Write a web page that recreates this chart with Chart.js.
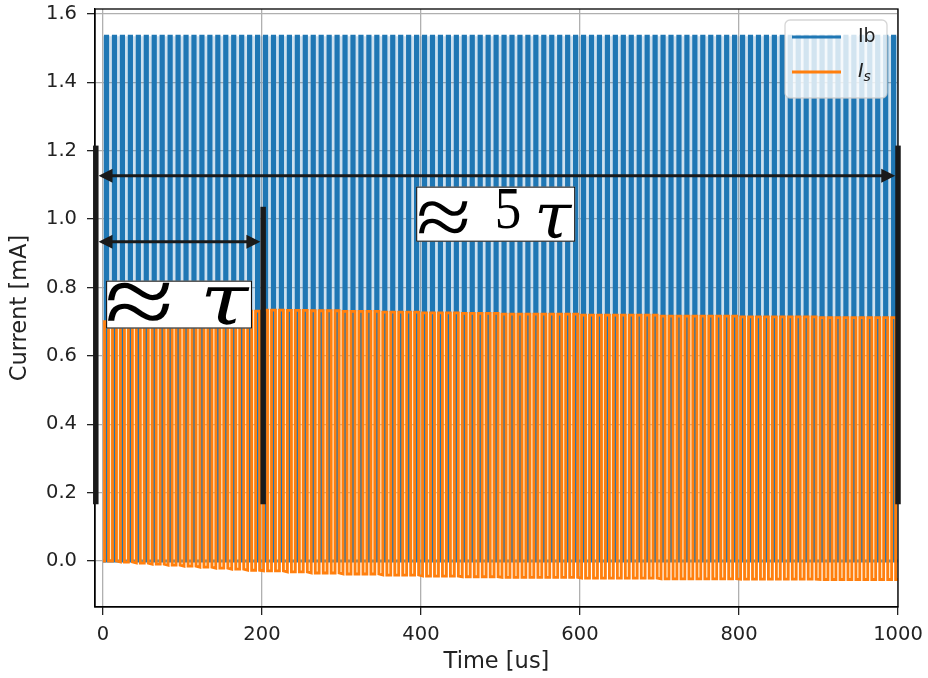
<!DOCTYPE html>
<html>
<head>
<meta charset="utf-8">
<script src="https://cdn.jsdelivr.net/npm/chart.js@4"></script>
<style>
  html, body { margin: 0; padding: 0; background: #fff; }
</style>
</head>
<body>
<canvas id="pulseChart" width="928" height="678"></canvas>
<script>
// axis ticks
const xTicks = [0, 200, 400, 600, 800, 1000];
const yTicks = [0.0, 0.2, 0.4, 0.6, 0.8, 1.0, 1.2, 1.4, 1.6];

// pulse train, one pulse every 10 us
const pulsePeriod = 10;
const pulseCount = 100;
const ibEdges = [3, 6];     // rise / fall inside each period (us)
const isEdges = [2, 7];
const ibLevels = [0, 1.535];

// Is levels, held from each time until the next one
const envTimes = [0, 20, 40, 60, 80, 100, 120, 140, 160, 180, 200, 230, 260, 300, 350, 400, 450, 500, 600, 700, 800, 900];
const isHigh = [0.700, 0.704, 0.708, 0.712, 0.716, 0.719, 0.722, 0.725, 0.728, 0.731, 0.734, 0.733, 0.732, 0.730, 0.728, 0.726, 0.724, 0.722, 0.719, 0.716, 0.714, 0.712];
const isLow = [0.000, -0.003, -0.006, -0.009, -0.012, -0.015, -0.018, -0.021, -0.024, -0.027, -0.029, -0.032, -0.035, -0.038, -0.041, -0.044, -0.046, -0.048, -0.050, -0.052, -0.053, -0.054];

const seriesNames = ["Ib", "I_s"];

// tau markers, in data units
const tauBars = [
  { x: -9, y0: 0.166, y1: 1.215 },
  { x: 201.5, y0: 0.166, y1: 1.036 },
  { x: 1000, y0: 0.166, y1: 1.215 },
];
const tauArrows = [
  { from: 0, to: 2, y: 1.127 },
  { from: 0, to: 1, y: 0.934 },
];
// each glyph is fitted to an ink box given as fractions of its label box
const tauLabels = [
  {
    x0: 394, x1: 594, yTop: 1.095, yBot: 0.934,
    parts: [
      { t: "≈", family: "Liberation Serif", box: [0.013, 0.255, 0.314, 0.6] },
      { t: "5", family: "Liberation Serif", box: [0.51, 0.055, 0.14, 0.727] },
      { t: "τ", family: "DejaVu Serif", italic: true, box: [0.767, 0.327, 0.215, 0.655] },
    ],
  },
  {
    x0: 4, x1: 187.4, yTop: 0.82, yBot: 0.68,
    parts: [
      { t: "≈", family: "Liberation Serif", box: [0.007, 0.042, 0.434, 0.82] },
      { t: "τ", family: "DejaVu Serif", italic: true, box: [0.68, 0.125, 0.305, 0.85] },
    ],
  },
];

function heldLevel(arr, t) {
  let v = arr[0];
  for (let i = 0; i < envTimes.length; i++) {
    if (envTimes[i] <= t) v = arr[i];
  }
  return v;
}

const ibData = [{ x: 0, y: ibLevels[0] }];
const isData = [{ x: 0, y: isLow[0] }];
const envData = [{ x: 0, y: isHigh[0] }];
for (let k = 0; k < pulseCount; k++) {
  const t = k * pulsePeriod;
  const hi = heldLevel(isHigh, t);
  const lo = heldLevel(isLow, t);
  ibData.push(
    { x: t + ibEdges[0], y: ibLevels[0] }, { x: t + ibEdges[0], y: ibLevels[1] },
    { x: t + ibEdges[1], y: ibLevels[1] }, { x: t + ibEdges[1], y: ibLevels[0] }
  );
  isData.push(
    { x: t + isEdges[0], y: lo }, { x: t + isEdges[0], y: hi },
    { x: t + isEdges[1], y: hi }, { x: t + isEdges[1], y: lo }
  );
  envData.push(
    { x: t + isEdges[0], y: hi }, { x: t + isEdges[0], y: hi },
    { x: t + isEdges[1], y: hi }, { x: t + isEdges[1], y: hi }
  );
}
const tEnd = pulseCount * pulsePeriod;
ibData.push({ x: tEnd, y: ibLevels[0] });
isData.push({ x: tEnd, y: heldLevel(isLow, tEnd) });
envData.push({ x: tEnd, y: heldLevel(isHigh, tEnd) });

const BLUE = "#1f77b4";
const ORANGE = "#ff7f0e";
const INK = "#1a1a1a";
const FONT = "DejaVu Sans";

const overlay = {
  id: "overlay",
  afterDatasetsDraw(chart) {
    const { ctx, chartArea: a, scales: { x, y } } = chart;
    ctx.save();

    // top / right spines
    ctx.strokeStyle = "#000";
    ctx.lineWidth = 1.3;
    ctx.strokeRect(a.left, a.top, a.right - a.left, a.bottom - a.top);

    // thick bars
    const barW = 5.5;
    ctx.fillStyle = INK;
    tauBars.forEach(b => {
      const px = x.getPixelForValue(b.x);
      const top = y.getPixelForValue(b.y1), bot = y.getPixelForValue(b.y0);
      ctx.fillRect(px - barW / 2, top, barW, bot - top);
    });

    // double-headed arrows
    ctx.strokeStyle = INK;
    ctx.lineWidth = 3;
    tauArrows.forEach(ar => {
      const xa = x.getPixelForValue(tauBars[ar.from].x) + barW / 2;
      const xb = x.getPixelForValue(tauBars[ar.to].x) - barW / 2;
      const py = y.getPixelForValue(ar.y);
      const hl = 14, hw = 7;
      ctx.beginPath();
      ctx.moveTo(xa + hl - 2, py);
      ctx.lineTo(xb - hl + 2, py);
      ctx.stroke();
      ctx.beginPath();
      ctx.moveTo(xa, py); ctx.lineTo(xa + hl, py - hw); ctx.lineTo(xa + hl, py + hw); ctx.closePath();
      ctx.moveTo(xb, py); ctx.lineTo(xb - hl, py - hw); ctx.lineTo(xb - hl, py + hw); ctx.closePath();
      ctx.fill();
    });

    // boxed labels
    tauLabels.forEach(lb => {
      const l = x.getPixelForValue(lb.x0), r = x.getPixelForValue(lb.x1);
      const t = y.getPixelForValue(lb.yTop), b = y.getPixelForValue(lb.yBot);
      const bw = r - l, bh = b - t;
      ctx.fillStyle = "#fff";
      ctx.fillRect(l, t, bw, bh);
      ctx.strokeStyle = "#000";
      ctx.lineWidth = 1;
      ctx.strokeRect(l + 0.5, t + 0.5, bw - 1, bh - 1);
      ctx.fillStyle = "#000";
      ctx.textBaseline = "alphabetic";
      ctx.textAlign = "left";
      lb.parts.forEach(p => {
        const [fl, ft, fw, fh] = p.box;
        const style = p.italic ? "italic " : "";
        ctx.font = `${style}100px '${p.family}'`;
        const m = ctx.measureText(p.t);
        const inkW = m.actualBoundingBoxLeft + m.actualBoundingBoxRight;
        const inkH = m.actualBoundingBoxAscent + m.actualBoundingBoxDescent;
        const k = (fh * bh) / inkH;          // font scale from height
        const sx = (fw * bw) / (inkW * k);   // extra horizontal stretch
        ctx.save();
        ctx.font = `${style}${100 * k}px '${p.family}'`;
        ctx.translate(l + fl * bw, t + ft * bh);
        ctx.scale(sx, 1);
        ctx.fillText(p.t, m.actualBoundingBoxLeft * k, m.actualBoundingBoxAscent * k);
        ctx.restore();
      });
    });

    // legend
    const lw = 102, lh = 78;
    const lx = a.right - 11 - lw, ly = a.top + 11;
    ctx.beginPath();
    ctx.roundRect(lx, ly, lw, lh, 5);
    ctx.fillStyle = "rgba(255,255,255,0.8)";
    ctx.fill();
    ctx.strokeStyle = "rgba(204,204,204,0.8)";
    ctx.lineWidth = 1.3;
    ctx.stroke();
    [BLUE, ORANGE].forEach((c, i) => {
      const ry = ly + 17 + i * 35;
      ctx.strokeStyle = c;
      ctx.lineWidth = 2.8;
      ctx.beginPath();
      ctx.moveTo(lx + 7, ry);
      ctx.lineTo(lx + 56, ry);
      ctx.stroke();
      ctx.fillStyle = "#222";
      ctx.textBaseline = "middle";
      const name = seriesNames[i];
      if (name.includes("_")) {
        const [main, sub] = name.split("_");
        ctx.font = `italic 19px ${FONT}`;
        ctx.fillText(main, lx + 73, ry);
        const w = ctx.measureText(main).width;
        ctx.font = `italic 14px ${FONT}`;
        ctx.fillText(sub, lx + 73 + w, ry + 5);
      } else {
        ctx.font = `19px ${FONT}`;
        ctx.fillText(name, lx + 73, ry);
      }
    });
    ctx.restore();
  }
};

const ctx = document.getElementById("pulseChart").getContext("2d");
const pulseChart = new Chart(ctx, {
  type: "line",
  data: {
    datasets: [
      {
        label: seriesNames[1],
        data: isData,
        borderColor: ORANGE,
        borderWidth: 2.8,
        backgroundColor: "rgba(255,190,90,0.32)",
        fill: { target: 2 },
        order: 1,
      },
      {
        label: seriesNames[0],
        data: ibData,
        borderColor: BLUE,
        borderWidth: 2.8,
        fill: false,
        order: 2,
      },
      {
        label: "gap",
        data: envData,
        borderColor: "rgba(0,0,0,0)",
        borderWidth: 0,
        backgroundColor: "rgba(31,119,180,0.22)",
        fill: { target: { value: ibLevels[1] } },
        order: 3,
      },
    ],
  },
  options: {
    responsive: false,
    animation: false,
    events: [],
    layout: { padding: { top: 9, right: 30, left: 0, bottom: 0 } },
    elements: {
      point: { radius: 0 },
      line: { tension: 0, borderJoinStyle: "miter" },
    },
    scales: {
      x: {
        type: "linear",
        min: -10,
        max: 1000,
        afterBuildTicks: s => { s.ticks = xTicks.map(v => ({ value: v })); },
        afterFit: s => { s.height = 71; s.paddingLeft = 0; s.paddingRight = 0; },
        ticks: {
          color: "#222",
          padding: 8,
          maxRotation: 0,
          font: { family: FONT, size: 19.5 },
          callback: v => String(v),
        },
        grid: { color: "#b0b0b0", lineWidth: 1.3, tickLength: 8, tickColor: "#222", tickWidth: 1.3 },
        border: { display: true, color: "#000", width: 1.3 },
        title: { display: true, text: "Time [us]", color: "#222", font: { family: FONT, size: 22.5 }, padding: { top: 0, bottom: 2.5 } },
      },
      y: {
        type: "linear",
        min: -0.1345,
        max: 1.6145,
        afterBuildTicks: s => { s.ticks = yTicks.map(v => ({ value: v })); },
        afterFit: s => { s.width = 95; s.paddingTop = 0; s.paddingBottom = 0; },
        ticks: {
          color: "#222",
          padding: 10,
          font: { family: FONT, size: 19.5 },
          callback: v => Number(v).toFixed(1),
        },
        grid: { color: "#b0b0b0", lineWidth: 1.3, tickLength: 8, tickColor: "#222", tickWidth: 1.3 },
        border: { display: true, color: "#000", width: 1.3 },
        title: { display: true, text: "Current [mA]", color: "#222", font: { family: FONT, size: 22.5 }, padding: { top: 6.5, bottom: 0 } },
      },
    },
    plugins: {
      legend: { display: false },
      tooltip: { enabled: false },
    },
  },
  plugins: [overlay],
});
</script>
</body>
</html>
